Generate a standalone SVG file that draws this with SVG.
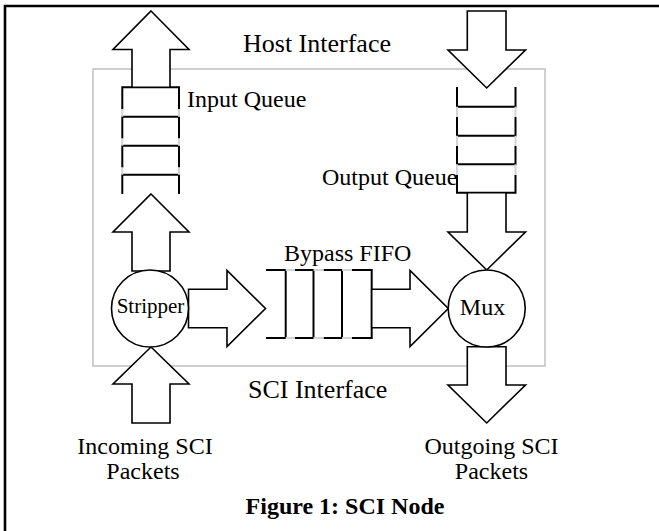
<svg xmlns="http://www.w3.org/2000/svg" width="659" height="531" viewBox="0 0 659 531">
<style>
.arrow{fill:#fff;stroke:#000;stroke-width:1.6;stroke-linejoin:miter}
.q{fill:none;stroke:#000;stroke-width:2}
.gap{fill:none;stroke:#d4d4d4;stroke-width:2}
.circ{fill:#fff;stroke:#000;stroke-width:1.6}
text{font-family:"Liberation Serif","Times New Roman",serif;fill:#000}
.t24{font-size:24px}
.t26{font-size:26px}
</style>
<rect width="659" height="531" fill="#fff"/>
<path d="M5,540 V6 H670" fill="none" stroke="#000" stroke-width="2.6"/>
<rect id="node-boundary" x="93" y="69" width="452" height="297" fill="none" stroke="#c0c0c0" stroke-width="1.5"/>

<g id="labels">
<text class="t26" x="243" y="52">Host Interface</text>
<text class="t26" x="248" y="398">SCI Interface</text>
</g>

<g id="input-queue">
<path class="q" d="M122.3,109.3 V87.3 H179 V109.3 M122.3,138.5 V116.7 H179 V138.5 M122.3,167.5 V145.7 H179 V167.5 M122.3,194 V174.7 H179 V194"/>
<path class="gap" d="M122.3,109.3 V116.7 M179,109.3 V116.7 M122.3,138.5 V145.7 M179,138.5 V145.7 M122.3,167.5 V174.7 M179,167.5 V174.7"/>
<text class="t24" x="187" y="107">Input Queue</text>
</g>

<g id="output-queue">
<path class="q" d="M457,87 V106.7 H515.5 V87 M457,117 V135.7 H515.5 V117 M457,146 V164.3 H515.5 V146 M457,175 V192.7 H515.5 V175"/>
<path class="gap" d="M457,106.7 V117 M515.5,106.7 V117 M457,135.7 V146 M515.5,135.7 V146 M457,164.3 V175 M515.5,164.3 V175"/>
<text class="t24" x="322" y="185">Output Queue</text>
</g>

<g id="bypass-fifo">
<path class="q" d="M266,270 H285.7 V338 H266 M295,270 H313.5 V338 H295 M323.5,270 H342 V338 H323.5 M352,270 H371.7 V338 H352"/>
<path class="gap" d="M285.7,270 H295 M285.7,338 H295 M313.5,270 H323.5 M313.5,338 H323.5 M342,270 H352 M342,338 H352"/>
<text class="t24" x="284" y="261">Bypass FIFO</text>
</g>

<g id="connectors">
<polygon class="arrow" points="151,11 189,49.5 170,49.5 170,87.3 132,87.3 132,49.5 113,49.5"/>
<polygon class="arrow" points="151,194 189,232 170,232 170,271 132,271 132,232 113,232"/>
<polygon class="arrow" points="151,347 189,384 170,384 170,423 132,423 132,384 113,384"/>
<polygon class="arrow" points="467.3,11 506,11 506,50 525.5,50 486.7,88 448,50 467.3,50"/>
<polygon class="arrow" points="467.3,192.7 506,192.7 506,232 525.5,232 486.7,270 448,232 467.3,232"/>
<polygon class="arrow" points="467.3,346.7 506,346.7 506,385 525.5,385 486.7,423 448,385 467.3,385"/>
<polygon class="arrow" points="188.5,289.3 227,289.3 227,270.5 265.5,308.5 227,346.5 227,327.7 188.5,327.7"/>
<polygon class="arrow" points="371.7,289.3 410,289.3 410,270.5 448.3,308.5 410,346.5 410,327.7 371.7,327.7"/>
</g>

<g id="stripper">
<circle class="circ" cx="150" cy="308.5" r="38.5"/>
<text x="150.5" y="313" font-size="21" text-anchor="middle">Stripper</text>
</g>

<g id="mux">
<circle class="circ" cx="486.7" cy="308.5" r="38.5"/>
<text x="482.5" y="315" class="t24" text-anchor="middle">Mux</text>
</g>

<g id="endpoints">
<text class="t24" x="145" y="454" text-anchor="middle">Incoming SCI</text>
<text class="t24" x="143" y="479" text-anchor="middle">Packets</text>
<text class="t24" x="491.5" y="454" text-anchor="middle">Outgoing SCI</text>
<text class="t24" x="491.5" y="479" text-anchor="middle">Packets</text>
</g>

<g id="caption">
<text x="345" y="514" font-size="24" font-weight="bold" text-anchor="middle">Figure 1: SCI Node</text>
</g>
</svg>
